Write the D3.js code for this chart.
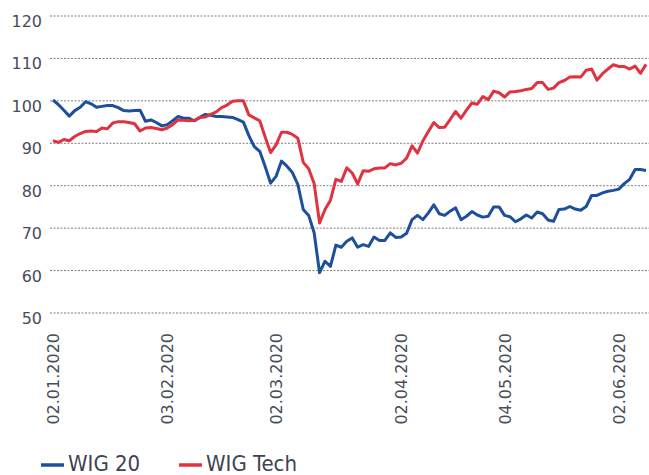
<!DOCTYPE html>
<html>
<head>
<meta charset="utf-8">
<script src="https://cdn.jsdelivr.net/npm/d3@7"></script>
<style>
  body { margin: 0; background: #fff; }
  .tick-label { font-family: 'DejaVu Sans', sans-serif; font-size: 16px; fill: #474d5a; }
  .legend-label { font-family: 'Liberation Sans Narrow', 'DejaVu Sans Condensed', sans-serif; font-size: 22px; fill: #3d4352; }
</style>
</head>
<body>
<div id="chart"></div>
<script>
// trading days on the Warsaw exchange, 02.01.2020 - 09.06.2020
const firstDay = '2020-01-02';
const lastDay = '2020-06-09';
const holidays = ['2020-01-06', '2020-04-10', '2020-04-13', '2020-05-01'];
const tickDates = ['2020-01-02', '2020-02-03', '2020-03-02', '2020-04-02', '2020-05-04', '2020-06-02'];
const yTicks = [50, 60, 70, 80, 90, 100, 110, 120];

const seriesNames = ['WIG 20', 'WIG Tech'];

const wig20 = [
  100.2, 99.1, 97.8, 96.4, 97.7, 98.5, 99.8, 99.3, 98.5, 98.7,
  98.9, 98.9, 98.4, 97.7, 97.6, 97.7, 97.8, 95.2, 95.5, 94.9,
  94.1, 94.4, 95.3, 96.3, 95.9, 95.9, 95.3, 96.1, 96.8, 96.6,
  96.3, 96.3, 96.2, 96.1, 95.6, 95.0, 91.8, 89.2, 88.1, 84.5,
  80.6, 82.2, 85.8, 84.6, 83.1, 80.3, 74.4, 73.0, 68.9, 59.5,
  62.2, 61.0, 66.0, 65.5, 66.9, 67.7, 65.5, 66.1, 65.7, 67.9,
  67.1, 67.1, 68.9, 67.8, 67.9, 68.8, 72.0, 73.0, 72.0, 73.6,
  75.5, 73.4, 73.0, 74.0, 74.8, 72.0, 72.8, 73.9, 73.1, 72.6,
  72.8, 75.0, 75.0, 73.0, 72.7, 71.5, 72.2, 73.1, 72.4, 73.8,
  73.4, 71.9, 71.6, 74.4, 74.5, 75.1, 74.5, 74.2, 75.1, 77.7,
  77.7, 78.3, 78.7, 78.9, 79.2, 80.5, 81.5, 83.8, 83.8, 83.6
];

const wigTech = [
  90.6, 90.2, 90.9, 90.6, 91.6, 92.3, 92.8, 92.9, 92.8, 93.6,
  93.4, 94.8, 95.1, 95.1, 94.9, 94.6, 92.9, 93.6, 93.7, 93.5,
  93.2, 93.6, 94.4, 95.5, 95.4, 95.3, 95.4, 96.1, 96.2, 96.8,
  97.4, 98.4, 99.0, 99.9, 100.0, 100.0, 96.7, 96.0, 95.3, 91.5,
  87.8, 89.6, 92.6, 92.6, 92.1, 91.2, 85.5, 84.0, 80.5, 71.2,
  74.4, 76.6, 81.5, 81.0, 84.2, 83.0, 80.4, 83.5, 83.4, 84.0,
  84.2, 84.2, 85.2, 84.9, 85.3, 86.5, 89.4, 87.7, 90.6, 92.8,
  94.9, 93.7, 93.8, 95.6, 97.5, 95.9, 97.8, 99.5, 99.2, 101.0,
  100.3, 102.3, 101.9, 100.9, 102.1, 102.2, 102.4, 102.7, 102.9, 104.3,
  104.3, 102.7, 103.0, 104.3, 104.8, 105.6, 105.7, 105.6, 107.2, 107.5,
  104.9, 106.4, 107.5, 108.5, 108.1, 108.1, 107.5, 108.2, 106.5, 108.6
];

const colors = ['#1d4f9c', '#e0323f'];

const width = 649;
const height = 475;

const parse = d3.utcParse('%Y-%m-%d');
const fmtKey = d3.utcFormat('%Y-%m-%d');
const fmtTick = d3.utcFormat('%d.%m.%Y');

const dates = d3.utcDay.range(parse(firstDay), d3.utcDay.offset(parse(lastDay), 1))
  .filter(d => d.getUTCDay() !== 0 && d.getUTCDay() !== 6 && !holidays.includes(fmtKey(d)))
  .map(fmtKey);

const x = d3.scalePoint()
  .domain(dates)
  .range([53, 646]);

const y = d3.scaleLinear()
  .domain([50, 120])
  .range([313, 16]);

const svg = d3.select('#chart')
  .append('svg')
  .attr('width', width)
  .attr('height', height);

// gridlines
svg.append('g')
  .selectAll('line')
  .data(yTicks)
  .enter().append('line')
    .attr('x1', 50)
    .attr('x2', width)
    .attr('y1', d => y(d))
    .attr('y2', d => y(d))
    .style('stroke', '#7d7d7d')
    .style('stroke-width', 1)
    .style('stroke-dasharray', '2,1.5');

// y labels
svg.append('g')
  .selectAll('text')
  .data(yTicks)
  .enter().append('text')
    .attr('class', 'tick-label')
    .attr('x', 42)
    .attr('y', d => y(d) + 11)
    .attr('text-anchor', 'end')
    .text(d => d);

// x labels, rotated
svg.append('g')
  .selectAll('text')
  .data(tickDates)
  .enter().append('text')
    .attr('class', 'tick-label')
    .attr('transform', d => `translate(${x(d) + 6},333) rotate(-90)`)
    .attr('text-anchor', 'end')
    .text(d => fmtTick(parse(d)));

const line = d3.line()
  .x((d, i) => x(dates[i]))
  .y(d => y(d))
  .curve(d3.curveLinear);

[wig20, wigTech].forEach((values, k) => {
  svg.append('path')
    .datum(values)
    .attr('d', line)
    .style('fill', 'none')
    .style('stroke', colors[k])
    .style('stroke-width', 3)
    .style('stroke-linejoin', 'round');
});

// legend
const legendX = [41, 179];
const legend = svg.append('g')
  .selectAll('g')
  .data(seriesNames)
  .enter().append('g')
    .attr('transform', (d, i) => `translate(${legendX[i]},0)`);

legend.append('line')
  .attr('x1', 0)
  .attr('x2', 23)
  .attr('y1', 465)
  .attr('y2', 465)
  .style('stroke', (d, i) => colors[i])
  .style('stroke-width', 3.5);

legend.append('text')
  .attr('class', 'legend-label')
  .attr('x', 27)
  .attr('y', 471)
  .text(d => d);
</script>
</body>
</html>
